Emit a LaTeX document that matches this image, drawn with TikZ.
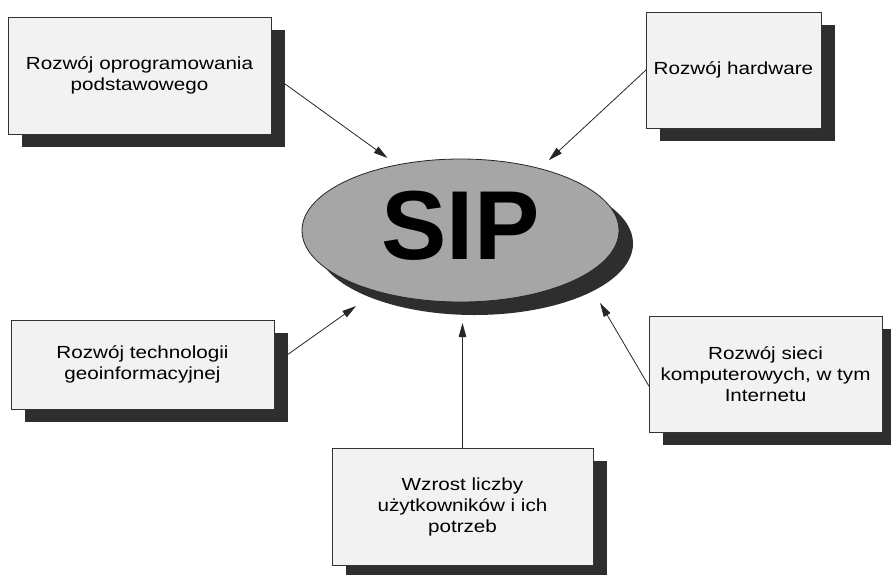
\documentclass[tikz,border=0pt]{standalone}
\usepackage{fontspec}
\setmainfont{Liberation Sans}[FakeStretch=1.18]
\newfontfamily\sipfont{Liberation Sans}
\usetikzlibrary{arrows.meta,shapes.geometric}
\begin{document}
\begin{tikzpicture}[x=1pt,y=-1pt,
  box/.style={draw=black!80, line width=0.8pt, fill=black!5, inner sep=0pt, outer sep=0pt,
    align=center, font=\fontsize{17.5}{21}\selectfont},
  shadowbox/.style={fill=black!82, draw=none, inner sep=0pt, outer sep=0pt},
  arr/.style={draw=black!85, line width=0.8pt, -{Triangle[length=14pt,width=7.5pt]}}
]
\useasboundingbox (0,0) rectangle (891,574);
\fill[white] (0,0) rectangle (891,574);

% shadows
\node[shadowbox, minimum width=263pt, minimum height=117pt] (b1s) at (153.5,88.5) {};
\node[shadowbox, minimum width=175pt, minimum height=116pt] (b2s) at (747.5,83) {};
\node[shadowbox, minimum width=263pt, minimum height=89pt] (b3s) at (156.5,377.5) {};
\node[shadowbox, minimum width=233pt, minimum height=116pt] (b4s) at (779.5,387) {};
\node[shadowbox, minimum width=261pt, minimum height=117pt] (b5s) at (476.5,519.5) {};
\node[ellipse, fill=black!82, draw=none, inner sep=0pt, outer sep=0pt,
  minimum width=317pt, minimum height=143pt] (sips) at (474.5,243.5) {};

% main shapes
\node[box, minimum width=263pt, minimum height=117pt] (b1) at (139.5,75.5)
  {Rozwój oprogramowania\\podstawowego};
\node[box, minimum width=175pt, minimum height=116pt] (b2) at (733.5,70)
  {Rozwój hardware};
\node[box, minimum width=263pt, minimum height=89pt] (b3) at (142.5,364.5)
  {Rozwój technologii\\geoinformacyjnej};
\node[box, minimum width=233pt, minimum height=116pt] (b4) at (765.5,374)
  {Rozwój sieci\\komputerowych, w tym\\Internetu};
\node[box, minimum width=261pt, minimum height=117pt] (b5) at (462.5,506.5)
  {Wzrost liczby\\użytkowników i ich\\potrzeb};
\node[ellipse, draw=black!85, line width=0.8pt, fill=black!35, inner sep=0pt, outer sep=0pt,
  minimum width=317pt, minimum height=143pt, text depth=11pt,
  font=\sipfont\bfseries\fontsize{98}{100}\selectfont] (sip) at (460.5,230.5) {SIP};

% connectors
\draw[arr, shorten >=12pt] (b1s.2.4) -- (sip.134.3);
\draw[arr, shorten >=12.4pt] (b2.west) -- (sip.38.5);
\draw[arr, shorten >=25.6pt] (b3s.10.55) -- (sip.216.6);
\draw[arr, shorten >=32pt] (b4.186.4) -- (sip.340);
\draw[arr, shorten >=21pt] (b5.north) -- (b5.north |- sip.south);
\end{tikzpicture}
\end{document}
